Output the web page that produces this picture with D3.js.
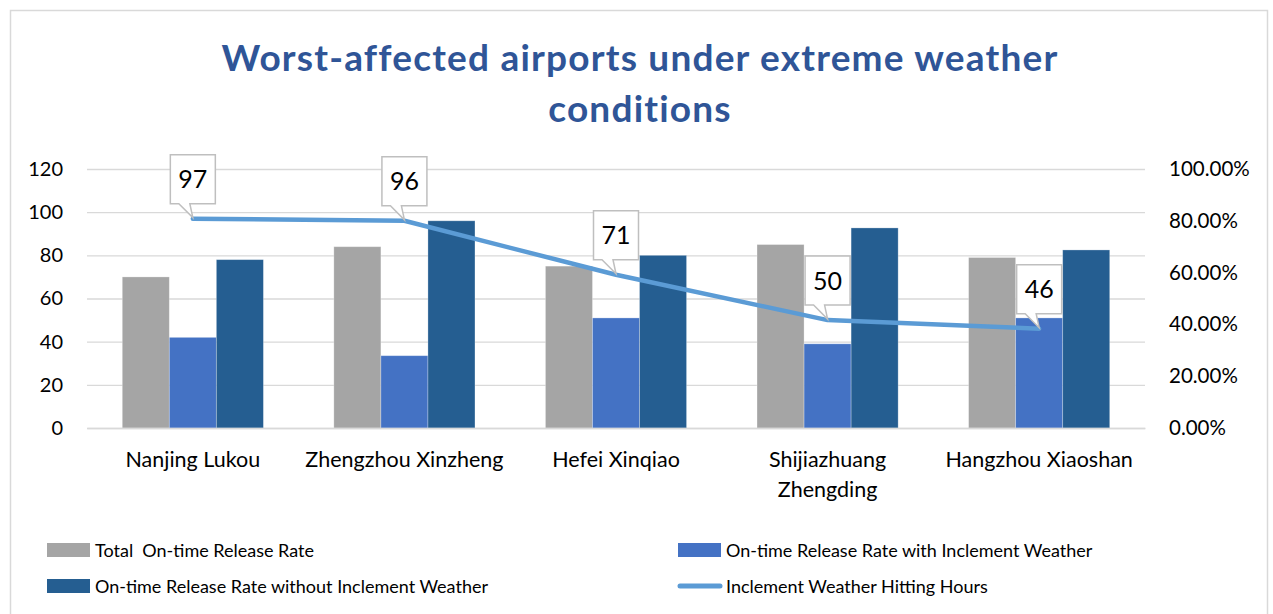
<!DOCTYPE html>
<html>
<head>
<meta charset="utf-8">
<script src="https://cdn.jsdelivr.net/npm/d3@7"></script>
<style>
  body { margin: 0; background: #fff; }
  svg { font-family: Lato, "Open Sans", sans-serif; }
</style>
</head>
<body>
<svg id="chart" width="1273" height="614"></svg>
<script>
// Data
var airports = ["Nanjing Lukou", "Zhengzhou Xinzheng", "Hefei Xinqiao", "Shijiazhuang Zhengding", "Hangzhou Xiaoshan"];
var totalRate = [70, 84, 75, 85, 79];
var withWeather = [42, 33.5, 51, 39, 51];
var withoutWeather = [78, 96, 80, 92.7, 82.5];
var hittingHours = [97, 96, 71, 50, 46];
var leftTicks = [0, 20, 40, 60, 80, 100, 120];
var rightTicks = [0, 0.2, 0.4, 0.6, 0.8, 1];

var seriesNames = ["Total  On-time Release Rate", "On-time Release Rate with Inclement Weather", "On-time Release Rate without Inclement Weather"];
var seriesValues = [totalRate, withWeather, withoutWeather];
var barColors = ["#a5a5a5", "#4472c4", "#255e91"];
var lineColor = "#5b9bd5";
var lineName = "Inclement Weather Hitting Hours";

var svg = d3.select('#chart');

// chart frame
svg.append('rect')
  .attr('x', 10.5).attr('y', 10.5)
  .attr('width', 1257).attr('height', 620)
  .attr('fill', 'none').attr('stroke', '#d9d9d9').attr('stroke-width', 1.5);

// title
var title = svg.append('text')
  .attr('text-anchor', 'middle')
  .attr('fill', '#2f5597')
  .style('font-weight', 'bold')
  .style('font-size', '37px')
  .style('letter-spacing', '1.2px');
title.append('tspan').attr('x', 640).attr('y', 71).text('Worst-affected airports under extreme weather');
title.append('tspan').attr('x', 640).attr('y', 122).text('conditions');

// scales
var plotLeft = 87, plotRight = 1145, plotTop = 169, plotBottom = 428;

var x = d3.scaleBand()
  .domain(airports)
  .range([plotLeft, plotRight])
  .paddingInner(0.333)
  .paddingOuter(0.1667);

var xSub = d3.scaleBand()
  .domain(d3.range(seriesNames.length))
  .range([0, x.bandwidth()]);

var yLeft = d3.scaleLinear().domain([0, 120]).range([plotBottom, plotTop]);
var yRight = d3.scaleLinear().domain([0, 1]).range([plotBottom, plotTop]);

// gridlines
svg.append('g')
  .attr('transform', `translate(${plotLeft},0)`)
  .call(d3.axisLeft(yLeft).tickValues(leftTicks).tickSize(-(plotRight - plotLeft)).tickFormat(''))
  .call(g => g.select('.domain').remove())
  .call(g => g.selectAll('line').attr('stroke', '#d9d9d9').attr('stroke-width', 1.4));

// left axis
svg.append('g')
  .attr('transform', `translate(${plotLeft},0)`)
  .call(d3.axisLeft(yLeft).tickValues(leftTicks).tickSize(0).tickPadding(24))
  .call(g => g.select('.domain').remove())
  .call(g => g.selectAll('text').attr('fill', '#000').style('font-size', '20px').style('font-family', 'Lato, sans-serif'));

// right axis
svg.append('g')
  .attr('transform', `translate(${plotRight},0)`)
  .call(d3.axisRight(yRight).tickValues(rightTicks).tickSize(0).tickPadding(24).tickFormat(d3.format('.2%')))
  .call(g => g.select('.domain').remove())
  .call(g => g.selectAll('text').attr('fill', '#000').style('font-size', '20.5px').style('font-family', 'Lato, sans-serif'));

// bars
var groups = svg.append('g').selectAll('g')
  .data(airports)
  .join('g')
  .attr('transform', d => `translate(${x(d)},0)`);

groups.selectAll('rect')
  .data((d, i) => seriesValues.map((vals, s) => ({ s: s, v: vals[i] })))
  .join('rect')
  .attr('x', d => xSub(d.s))
  .attr('width', xSub.bandwidth())
  .attr('y', d => yLeft(d.v))
  .attr('height', d => plotBottom - yLeft(d.v))
  .attr('fill', d => barColors[d.s])
  .attr('stroke', '#ffffff')
  .attr('stroke-opacity', 0.35)
  .attr('stroke-width', 0.8);

// x axis baseline + labels
var xAxis = svg.append('g')
  .attr('transform', `translate(0,${plotBottom})`)
  .call(d3.axisBottom(x).tickSize(0).tickPadding(24))
  .call(g => g.select('.domain').attr('stroke', '#d9d9d9').attr('stroke-width', 1.4));

xAxis.selectAll('text')
  .attr('fill', '#000')
  .style('font-size', '21.5px')
  .style('font-family', 'Lato, sans-serif')
  .each(function(d) {
    var t = d3.select(this);
    if (this.getComputedTextLength() > x.step()) {
      var words = d.split(' ');
      t.text(null);
      t.append('tspan').attr('x', 0).text(words[0]);
      t.append('tspan').attr('x', 0).attr('dy', '1.37em').text(words.slice(1).join(' '));
    }
  });

// line
var pts = airports.map((a, i) => [x(a) + x.bandwidth() / 2, yLeft(hittingHours[i]), hittingHours[i]]);

svg.append('path')
  .datum(pts)
  .attr('fill', 'none')
  .attr('stroke', lineColor)
  .attr('stroke-width', 4.5)
  .attr('stroke-linejoin', 'round')
  .attr('stroke-linecap', 'round')
  .attr('d', d3.line());

// callout labels
var boxW = 45, boxH = 49, gap = 15;
var callouts = svg.append('g').selectAll('g')
  .data(pts)
  .join('g');

callouts.append('path')
  .attr('fill', '#fff')
  .attr('stroke', '#bfbfbf')
  .attr('stroke-width', 1.5)
  .attr('d', d => {
    var px = d[0], py = d[1];
    var b = py - gap, t = b - boxH, l = px - boxW / 2, r = px + boxW / 2;
    return `M${l},${t}H${r}V${b}H${px - 3}L${px},${py - 1}L${px - 14},${b}H${l}Z`;
  });

callouts.append('text')
  .attr('x', d => d[0])
  .attr('y', d => d[1] - gap - boxH / 2 + 9)
  .attr('text-anchor', 'middle')
  .style('font-size', '25px')
  .attr('fill', '#000')
  .text(d => d[2]);

// legend
var legendItems = [
  { name: seriesNames[0], color: barColors[0], type: 'bar', x: 47, y: 550 },
  { name: seriesNames[1], color: barColors[1], type: 'bar', x: 678, y: 550 },
  { name: seriesNames[2], color: barColors[2], type: 'bar', x: 47, y: 586 },
  { name: lineName, color: lineColor, type: 'line', x: 678, y: 586 }
];

var legend = svg.append('g').selectAll('g')
  .data(legendItems)
  .join('g')
  .attr('transform', d => `translate(${d.x},${d.y})`);

legend.filter(d => d.type === 'bar').append('rect')
  .attr('x', 0).attr('y', -7)
  .attr('width', 43).attr('height', 14)
  .attr('fill', d => d.color);

legend.filter(d => d.type === 'line').append('line')
  .attr('x1', 2).attr('x2', 42)
  .attr('stroke', d => d.color)
  .attr('stroke-width', 5)
  .attr('stroke-linecap', 'round');

legend.append('text')
  .attr('x', 48)
  .attr('y', 7)
  .style('font-size', '18px')
  .style('white-space', 'pre')
  .attr('fill', '#000')
  .text(d => d.name);
</script>
</body>
</html>
